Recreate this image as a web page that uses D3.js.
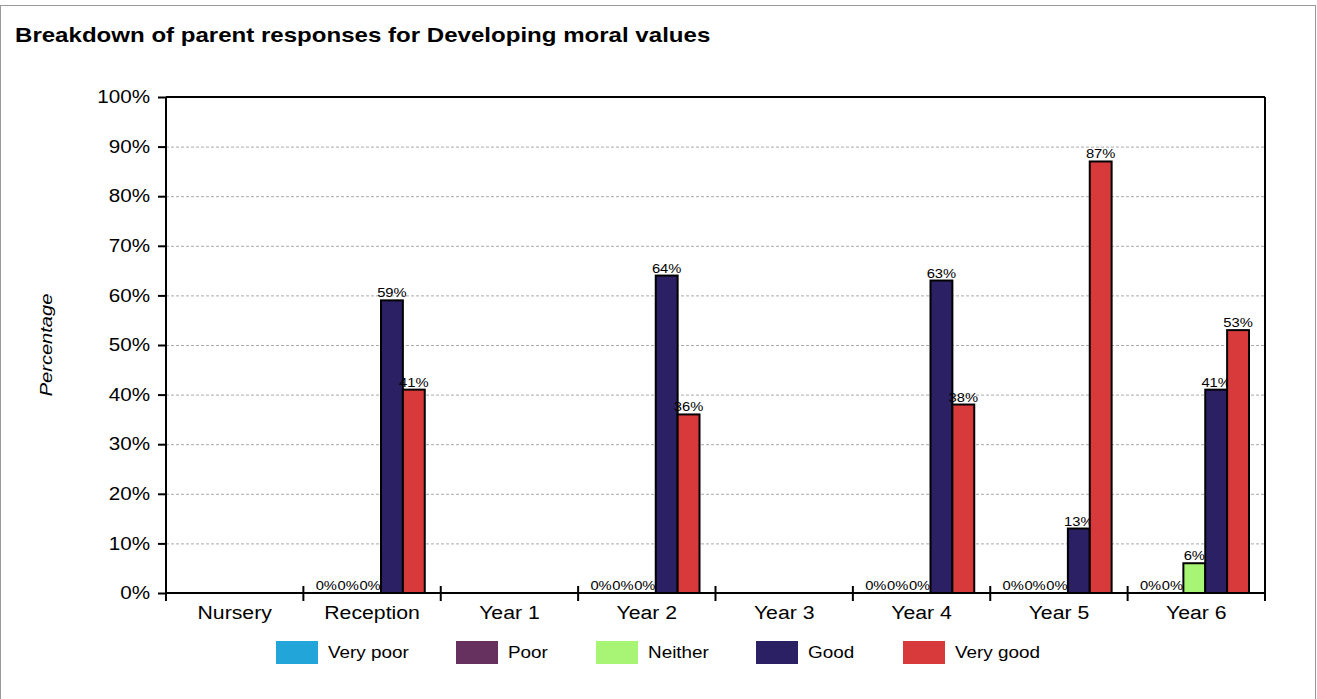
<!DOCTYPE html>
<html>
<head>
<meta charset="utf-8">
<title>Breakdown of parent responses for Developing moral values</title>
<script src="https://d3js.org/d3.v7.min.js"></script>
<style>
  body {margin: 0; background: #fff;}
  svg text {font-family: "Liberation Sans", Arial, sans-serif; fill: #000;}
  .grid line {stroke: #aaa; stroke-dasharray: 3,2;}
</style>
</head>
<body>
<svg id="chart" width="1317" height="699"></svg>
<script>
// data (null = no responses for that year)
var categories = ["Nursery", "Reception", "Year 1", "Year 2", "Year 3", "Year 4", "Year 5", "Year 6"];
var seriesNames = ["Very poor", "Poor", "Neither", "Good", "Very good"];
var seriesColors = ["#22a6da", "#66305f", "#a8f575", "#2c2064", "#d83a3c"];
var veryPoor = [null, 0, null, 0, null, 0, 0, 0];
var poor     = [null, 0, null, 0, null, 0, 0, 0];
var neither  = [null, 0, null, 0, null, 0, 0, 6];
var good     = [null, 59, null, 64, null, 63, 13, 41];
var veryGood = [null, 41, null, 36, null, 38, 87, 53];
var yTicks = [0, 10, 20, 30, 40, 50, 60, 70, 80, 90, 100];

var series = [veryPoor, poor, neither, good, veryGood];

var svg = d3.select("#chart");
var margin = {top: 97, left: 166, right: 52, bottom: 106};
var width = 1317 - margin.left - margin.right,
    height = 699 - margin.top - margin.bottom;

// outer frame
svg.append("rect")
  .attr("x", 0.5).attr("y", 5.5)
  .attr("width", 1315).attr("height", 720)
  .attr("fill", "none").attr("stroke", "#999");

svg.append("text")
  .attr("x", 15).attr("y", 42)
  .attr("font-size", 20.4).attr("font-weight", "bold")
  .text("Breakdown of parent responses for Developing moral values");

var x = d3.scaleBand().domain(categories).range([0, width]);
var y = d3.scaleLinear().domain([0, 100]).range([height, 0]);
var xs = d3.scaleBand().domain(d3.range(series.length))
  .range([12, x.bandwidth() - 16]);

var g = svg.append("g")
  .attr("transform", "translate(" + margin.left + "," + margin.top + ")");

// grid
g.append("g").attr("class", "grid")
  .selectAll("line")
  .data(yTicks.filter(function(d){ return d > 0 && d < 100; }))
  .enter().append("line")
  .attr("x1", 0).attr("x2", width)
  .attr("y1", function(d){ return y(d) + 0.5; })
  .attr("y2", function(d){ return y(d) + 0.5; });

// bars
series.forEach(function(vals, si) {
  var pts = categories.map(function(c, i){ return {cat: c, v: vals[i]}; })
    .filter(function(d){ return d.v !== null; });

  g.selectAll(".bar" + si)
    .data(pts.filter(function(d){ return d.v > 0; }))
    .enter().append("rect")
    .attr("x", function(d){ return x(d.cat) + xs(si); })
    .attr("y", function(d){ return y(d.v); })
    .attr("width", xs.bandwidth())
    .attr("height", function(d){ return height - y(d.v); })
    .attr("fill", seriesColors[si])
    .attr("stroke", "#000").attr("stroke-width", 2);

  g.selectAll(".lab" + si)
    .data(pts)
    .enter().append("text")
    .attr("x", function(d){ return x(d.cat) + xs(si) + xs.bandwidth() / 2; })
    .attr("y", function(d){ return y(d.v) - 3; })
    .attr("text-anchor", "middle")
    .attr("font-size", 12.5)
    .text(function(d){ return d.v + "%"; });
});

// frame of plot area
g.append("line").attr("x1", 0).attr("x2", width).attr("y1", 0).attr("y2", 0)
  .attr("stroke", "#000").attr("stroke-width", 2);
g.append("line").attr("x1", width).attr("x2", width).attr("y1", 0).attr("y2", height + 8)
  .attr("stroke", "#000").attr("stroke-width", 2);

// y axis
var yAxis = g.append("g")
  .call(d3.axisLeft(y).tickValues(yTicks).tickSize(8).tickPadding(8)
    .tickFormat(function(d){ return d + "%"; }));
yAxis.select(".domain").attr("stroke-width", 2).attr("d", "M0,0V" + (height + 8));
yAxis.selectAll(".tick line").attr("stroke-width", 2);
yAxis.selectAll("text").attr("font-size", 17.5);

// x axis
var xAxis = g.append("g")
  .attr("transform", "translate(0," + height + ")")
  .call(d3.axisBottom(x).tickSize(0).tickPadding(12));
xAxis.select(".domain").attr("stroke-width", 2).attr("d", "M0,0H" + width);
xAxis.selectAll("text").attr("font-size", 18).attr("dy", null).attr("y", 26);
xAxis.selectAll(".sep")
  .data(categories.slice(1))
  .enter().append("line")
  .attr("x1", function(d){ return x(d); }).attr("x2", function(d){ return x(d); })
  .attr("y1", -7).attr("y2", 8)
  .attr("stroke", "#000").attr("stroke-width", 2);

// y title
svg.append("text")
  .attr("transform", "translate(52," + (margin.top + height / 2) + ") rotate(-90)")
  .attr("text-anchor", "middle")
  .attr("font-size", 17).attr("font-style", "italic")
  .text("Percentage");

// legend
var legendX = [276, 456, 596, 756, 903];
var legend = svg.append("g").attr("transform", "translate(0,641)");
seriesNames.forEach(function(name, i) {
  legend.append("rect")
    .attr("x", legendX[i]).attr("y", 0)
    .attr("width", 42).attr("height", 23)
    .attr("fill", seriesColors[i]);
  legend.append("text")
    .attr("x", legendX[i] + 52).attr("y", 17)
    .attr("font-size", 16)
    .text(name);
});

// the original's lettering is set a little wider than Arial
svg.selectAll("text").each(function() {
  var len = this.getComputedTextLength();
  d3.select(this).attr("textLength", len * 1.18).attr("lengthAdjust", "spacingAndGlyphs");
});
</script>
</body>
</html>
